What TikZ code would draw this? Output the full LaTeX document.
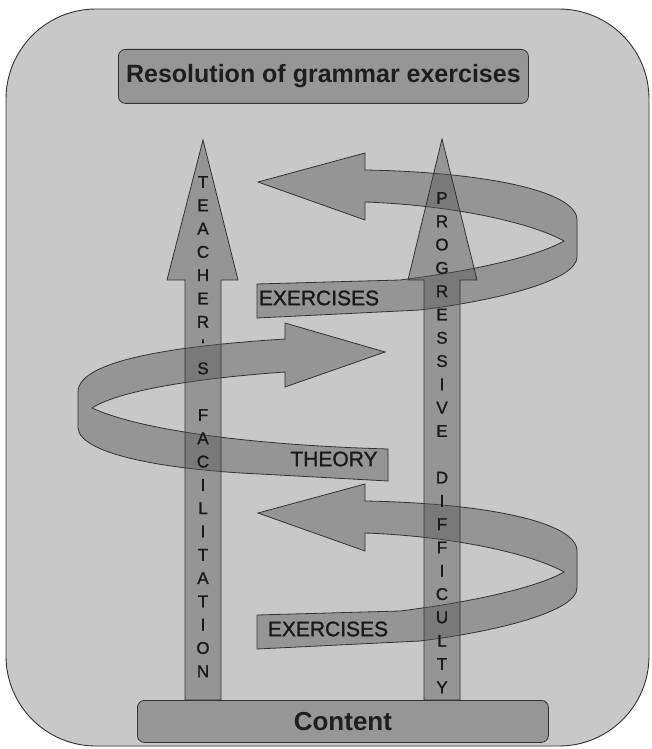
\documentclass[tikz,border=0pt]{standalone}
\usepackage{fontspec}
\setmainfont{Liberation Sans}
\newfontfamily\semifont[FakeBold=1.2]{Liberation Sans}
\begin{document}
\begin{tikzpicture}[x=1pt,y=-1pt,
  linecol/.style={draw={rgb,255:red,50;green,50;blue,50}},
  band/.style={linecol, line width=0.8pt, fill={rgb,255:red,89;green,89;blue,89}, fill opacity=0.45, line join=miter},
  boxstyle/.style={linecol, line width=0.8pt, fill={rgb,255:red,150;green,150;blue,150}, rounded corners=7pt},
  letter/.style={text={rgb,255:red,25;green,25;blue,25}, font=\semifont\fontsize{17}{17}\selectfont, inner sep=0pt},
  bandtext/.style={text={rgb,255:red,25;green,25;blue,25}, font=\semifont\fontsize{21}{21}\selectfont, inner sep=0pt},
  boxtext/.style={text={rgb,255:red,30;green,30;blue,30}, font=\bfseries\fontsize{25}{25}\selectfont, inner sep=0pt}
]
\useasboundingbox (0,0) rectangle (651,749);
\fill[white] (0,0) rectangle (651,749);
% outer panel
\draw[linecol, line width=0.9pt, fill={rgb,255:red,200;green,200;blue,200}, rounded corners=90pt] (6,9) rectangle (649,746);

% title box
\node[boxstyle, minimum width=410pt, minimum height=54pt, anchor=north west] (title) at (118,49) {};
\node[boxtext] (titletext) at (title.center) {Resolution of grammar exercises};

% band 1 (top, pointing left)
\path[band] (257,284) -- (400,280) .. controls (480,270) and (540,255) .. (564,241)
  .. controls (530,222) and (450,205) .. (365,202) -- (365,220) -- (258,182) -- (365,153) -- (365,170)
  .. controls (480,172) and (577,190) .. (577,220) -- (577,257)
  .. controls (577,280) and (500,300) .. (420,310) -- (257,318) -- cycle;

% band 3 (bottom, pointing left) = band 1 shifted
\begin{scope}[shift={(0,331)}]
\path[band] (257,284) -- (400,280) .. controls (480,270) and (540,255) .. (564,241)
  .. controls (530,222) and (450,205) .. (365,202) -- (365,220) -- (258,182) -- (365,153) -- (365,170)
  .. controls (480,172) and (577,190) .. (577,220) -- (577,257)
  .. controls (577,280) and (500,300) .. (420,310) -- (257,318) -- cycle;
\end{scope}

% band 2 (middle, pointing right)
\path[band] (388,449) -- (388,481) -- (260,474) .. controls (170,470) and (80,455) .. (78,428)
  -- (78,392) .. controls (78,358) and (190,345) .. (285,339) -- (285,323) -- (385,352) -- (285,387) -- (285,372)
  .. controls (200,378) and (120,390) .. (92,408) .. controls (140,430) and (250,445) .. (388,449) -- cycle;

% vertical arrows
\path[band] (185,700) -- (185,280) -- (167,280) -- (203,140) -- (238,280) -- (221,280) -- (221,700) -- cycle;
\path[band] (424,700) -- (424,280) -- (408,280) -- (442,139) -- (477,280) -- (460,280) -- (460,700) -- cycle;

% letters of left arrow
\foreach \ch [count=\i from 0] in {T,E,A,C,H,E,R,‘,S,{},F,A,C,I,L,I,T,A,T,I,O,N}
  \node[letter] (tl\i) at (203, 182+\i*23.3) {\ch};
% letters of right arrow
\foreach \ch [count=\i from 0] in {P,R,O,G,R,E,S,S,I,V,E,{},D,I,F,F,I,C,U,L,T,Y}
  \node[letter] (tr\i) at (442, 198+\i*23.3) {\ch};

% band labels
\node[bandtext] (ex1) at (319,298) {EXERCISES};
\node[bandtext] (theory) at (334,459) {THEORY};
\node[bandtext] (ex2) at (328,629) {EXERCISES};

% content box
\node[boxstyle, minimum width=411pt, minimum height=42pt, anchor=north west] (content) at (137,700) {};
\node[boxtext, font=\bfseries\fontsize{26}{26}\selectfont] (contenttext) at (content.center) {Content};
\end{tikzpicture}
\end{document}
